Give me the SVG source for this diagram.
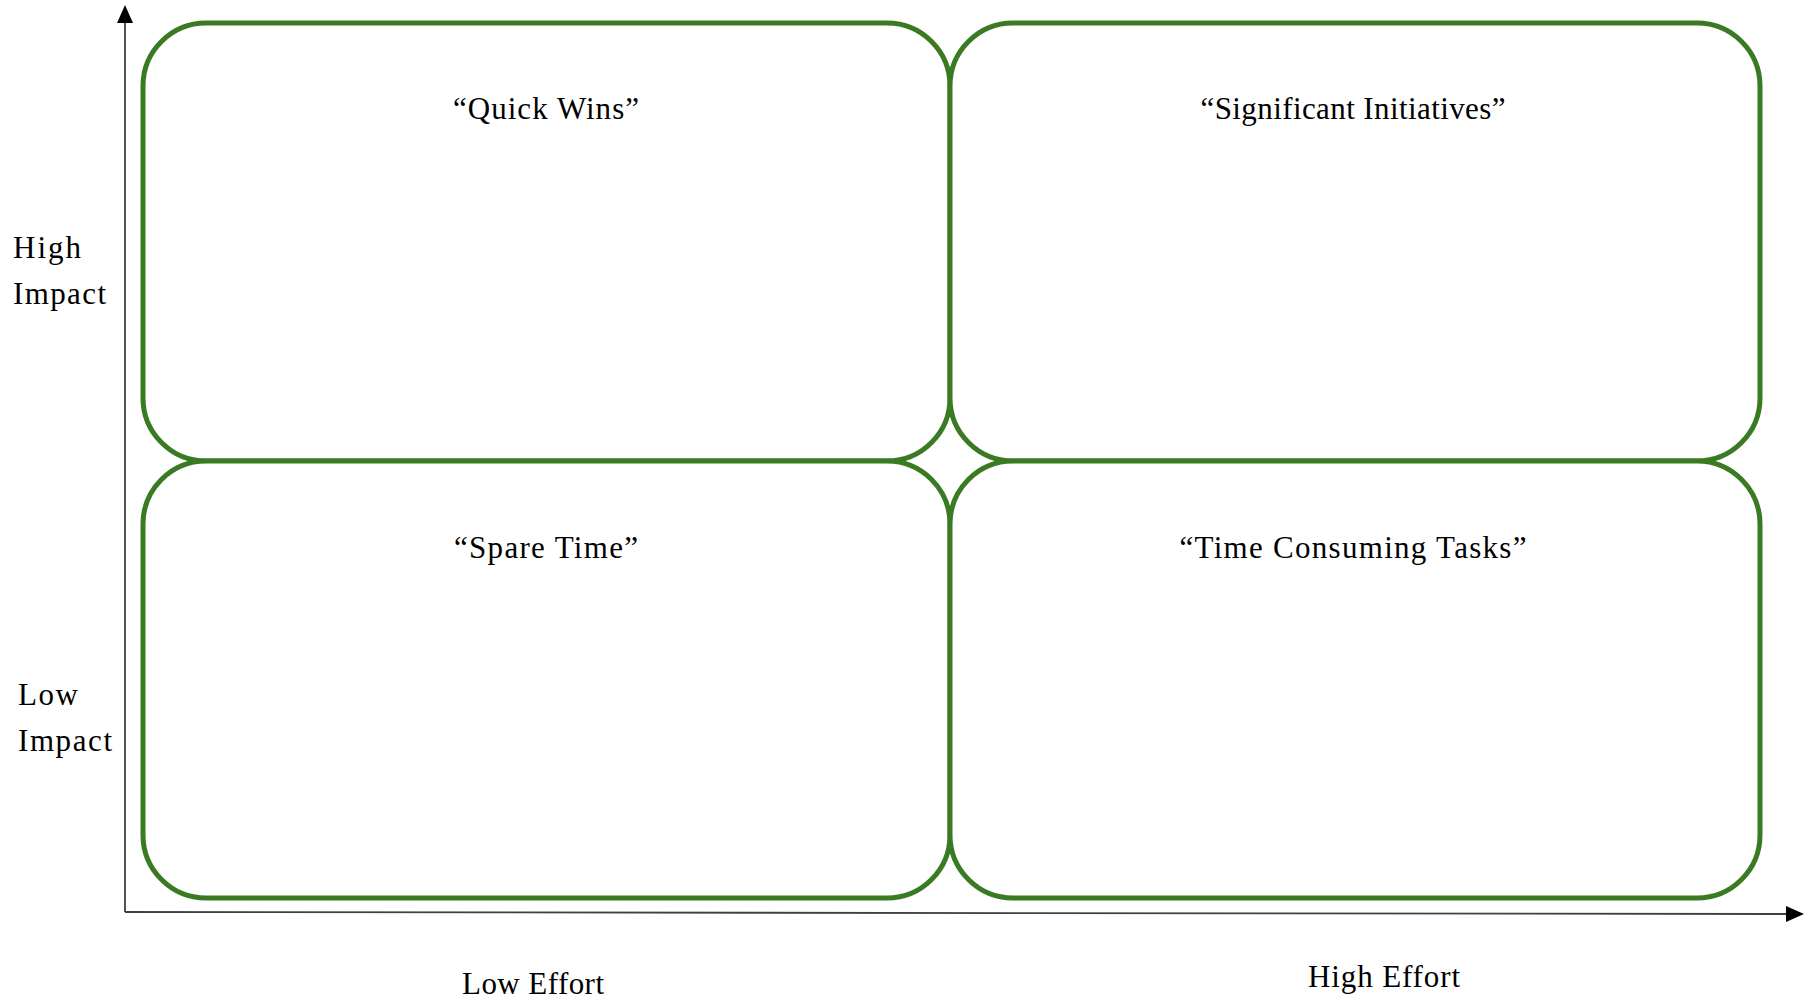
<svg xmlns="http://www.w3.org/2000/svg" width="1804" height="998" viewBox="0 0 1804 998">
<style>
.q{fill:#fff;stroke:#3a7a22;stroke-width:5}
.t{font-family:"Liberation Serif","DejaVu Serif",serif;font-size:31px;fill:#000}
.m{text-anchor:middle}
.ax{stroke:#404040;stroke-width:1.8;fill:none}
</style>
<rect width="1804" height="998" fill="#fff"/>
<g id="connectors">
<line class="ax" x1="125" y1="912" x2="125" y2="22"/>
<path d="M117,23 L125,5 L133,23 Z" fill="#000"/>
<line class="ax" x1="125" y1="912" x2="1790" y2="914"/>
<path d="M1786,906 L1804,914 L1786,922 Z" fill="#000"/>
</g>
<g id="quick-wins">
<rect class="q" x="143" y="23" width="807" height="438" rx="63" ry="63"/>
<text class="t m" x="546" y="119" textLength="186">“Quick Wins”</text>
</g>
<g id="significant-initiatives">
<rect class="q" x="950" y="23" width="810" height="438" rx="63" ry="63"/>
<text class="t m" x="1353" y="119" textLength="305">“Significant Initiatives”</text>
</g>
<g id="spare-time">
<rect class="q" x="143" y="461" width="807" height="437" rx="63" ry="63"/>
<text class="t m" x="546" y="558" textLength="184">“Spare Time”</text>
</g>
<g id="time-consuming">
<rect class="q" x="950" y="461" width="810" height="437" rx="63" ry="63"/>
<text class="t m" x="1353" y="558" textLength="347">“Time Consuming Tasks”</text>
</g>
<g id="high-impact">
<text class="t" x="13" y="258" textLength="68">High</text>
<text class="t" x="13" y="304" textLength="93">Impact</text>
</g>
<g id="low-impact">
<text class="t" x="18" y="705" textLength="60">Low</text>
<text class="t" x="18" y="751" textLength="94">Impact</text>
</g>
<g id="low-effort">
<text class="t" x="462" y="994" textLength="142">Low Effort</text>
</g>
<g id="high-effort">
<text class="t" x="1308" y="987" textLength="152">High Effort</text>
</g>
</svg>
